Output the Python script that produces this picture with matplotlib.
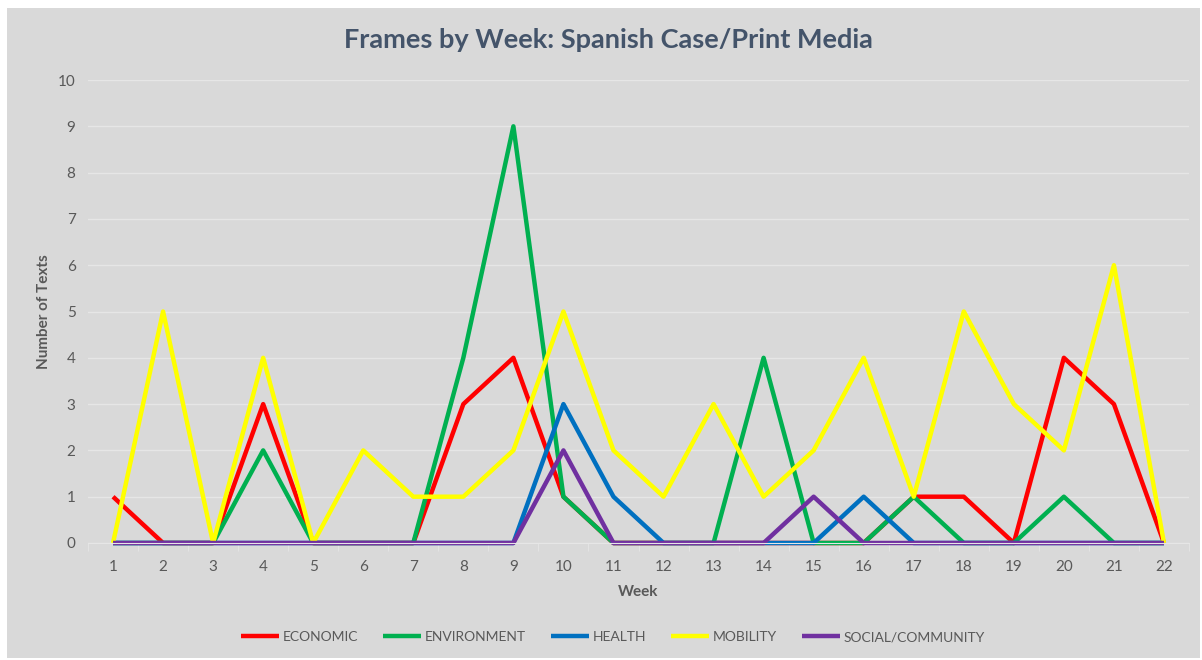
import matplotlib
matplotlib.use("Agg")
from matplotlib import pyplot as plt
from matplotlib.patches import Rectangle

weeks = list(range(1, 23))
economic = [1, 0, 0, 3, 0, 0, 0, 3, 4, 1, 0, 0, 0, 0, 0, 0, 1, 1, 0, 4, 3, 0]
environment = [0, 0, 0, 2, 0, 0, 0, 4, 9, 1, 0, 0, 0, 4, 0, 0, 1, 0, 0, 1, 0, 0]
health = [0, 0, 0, 0, 0, 0, 0, 0, 0, 3, 1, 0, 0, 0, 0, 1, 0, 0, 0, 0, 0, 0]
mobility = [0, 5, 0, 4, 0, 2, 1, 1, 2, 5, 2, 1, 3, 1, 2, 4, 1, 5, 3, 2, 6, 0]
social = [0, 0, 0, 0, 0, 0, 0, 0, 0, 2, 0, 0, 0, 0, 1, 0, 0, 0, 0, 0, 0, 0]

series = [
    ("ECONOMIC", economic, "#FF0000"),
    ("ENVIRONMENT", environment, "#00B050"),
    ("HEALTH", health, "#0070C0"),
    ("MOBILITY", mobility, "#FFFF00"),
    ("SOCIAL/COMMUNITY", social, "#7030A0"),
]

plt.rcParams['font.family'] = ['Lato', 'DejaVu Sans']
text_col = "#595959"
title_col = "#44546A"

fig = plt.figure(figsize=(12.02, 6.6), dpi=100)
fig.patch.set_facecolor("white")
fig.patches.append(Rectangle((7 / 1202, 2 / 660), 1193 / 1202, 650 / 660,
                             transform=fig.transFigure, facecolor="#D9D9D9",
                             edgecolor="none", zorder=-5))

ax = fig.add_axes([88 / 1202, 1 - 543 / 660, (1189 - 88) / 1202, (543 - 80) / 660])
ax.set_facecolor("none")

for name, vals, col in series:
    ax.plot(weeks, vals, color=col, lw=3.2, label=name, solid_joinstyle="round",
            solid_capstyle="butt", clip_on=False)

ax.set_xlim(0.5, 22.5)
ax.set_ylim(0, 10)
ax.set_yticks(range(0, 11))
ax.set_xticks(weeks)
ax.set_xticks([w + 0.5 for w in range(0, 23)], minor=True)
ax.grid(axis="y", color="#E6E6E6", lw=1)
ax.set_axisbelow(True)
for s in ["top", "right", "left"]:
    ax.spines[s].set_visible(False)
ax.spines["bottom"].set_color("#E6E6E6")
ax.tick_params(axis="y", length=0, labelsize=11, labelcolor=text_col, pad=9)
ax.tick_params(axis="x", which="major", length=0, labelsize=11, labelcolor=text_col, pad=12)
ax.tick_params(axis="x", which="minor", length=6, color="#E6E6E6")

ax.set_xlabel("Week", fontsize=11, fontweight="bold", color=text_col, labelpad=8)
ax.set_ylabel("Number of Texts", fontsize=11, fontweight="bold", color=text_col, labelpad=5)

fig.text(0.506, 1 - 40 / 660, "Frames by Week: Spanish Case/Print Media", ha="center", va="center",
         fontsize=19.5, fontweight="bold", color=title_col)

leg = fig.legend(loc="center", bbox_to_anchor=(0.51, 1 - 637 / 660), ncol=5, frameon=False,
                 fontsize=10, handlelength=2.7, handletextpad=0.3, columnspacing=1.8)
for t in leg.get_texts():
    t.set_color(text_col)

fig.savefig("out.png", dpi=100)
